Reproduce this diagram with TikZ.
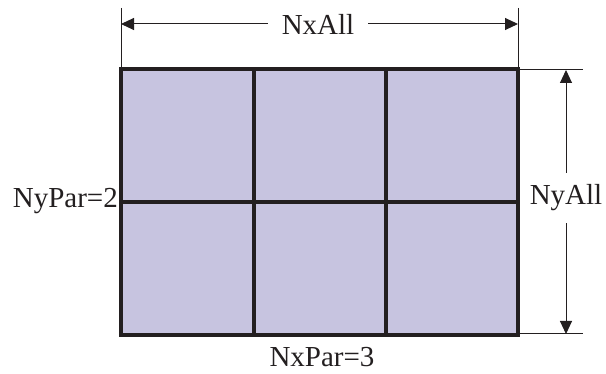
\documentclass[tikz,border=0pt]{standalone}
\usepackage{fontspec}
\setmainfont{Liberation Serif}
\usetikzlibrary{arrows.meta,positioning}

\definecolor{cellfill}{RGB}{199,196,224}
\definecolor{inkdark}{RGB}{35,31,32}

\begin{document}
\begin{tikzpicture}[
  x=1pt, y=-1pt,
  cellline/.style={draw=inkdark, line width=3.2pt},
  frameline/.style={draw=inkdark, line width=4.2pt},
  extline/.style={draw=inkdark, line width=1pt},
  dimarrow/.style={draw=inkdark, line width=1pt, -{Triangle[length=13pt,width=12pt]}},
  dimlabel/.style={font=\fontsize{29}{30}\selectfont, text=inkdark, inner sep=0pt},
]
\useasboundingbox (0,0) rectangle (606,374);

%% Grid of subdomains
\coordinate (nw) at (121,69);
\coordinate (se) at (518,335);
\fill[cellfill] (nw) rectangle (se);
\draw[cellline] (254,69) -- (254,335);
\draw[cellline] (386,69) -- (386,335);
\draw[cellline] (121,202) -- (518,202);
\draw[frameline] (nw) rectangle (se);

%% Extension lines
\draw[extline] (121,8) -- (121,69);
\draw[extline] (518,8) -- (518,69);
\draw[extline] (518,70) -- (583,70);
\draw[extline] (518,334) -- (583,334);

%% Top dimension
\coordinate (xl) at (121,24);
\coordinate (xr) at (518,24);
\node[dimlabel, inner xsep=14pt] (nxall) at (318,24) {NxAll};
\draw[dimarrow] (nxall.west) -- (xl);
\draw[dimarrow] (nxall.east) -- (xr);

%% Right dimension
\coordinate (yt) at (566,70);
\coordinate (yb) at (566,334);
\node[dimlabel, inner ysep=12pt] (nyall) at (566,198) {NyAll};
\draw[dimarrow] (nyall.north) -- (yt);
\draw[dimarrow] (nyall.south) -- (yb);

%% Partition counts
\node[dimlabel, anchor=east] (nypar) at (118,201) {NyPar=2};
\node[dimlabel] (nxpar) at (322,357) {NxPar=3};

\end{tikzpicture}
\end{document}
